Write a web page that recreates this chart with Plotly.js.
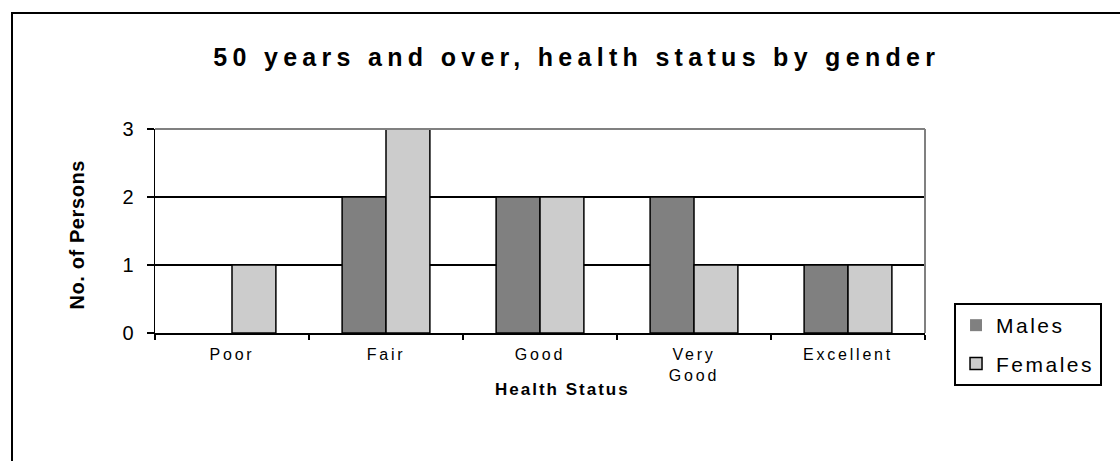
<!DOCTYPE html>
<html>
<head>
<meta charset="utf-8">
<script src="https://cdn.plot.ly/plotly-3.0.1.min.js"></script>
<style>
  html, body { margin: 0; padding: 0; background: #fff; }
  #wrap { position: relative; width: 1120px; height: 461px; overflow: hidden; }
  #chart { position: absolute; left: 0; top: 0; width: 1120px; height: 461px; }
  #frame { position: absolute; left: 11px; top: 12px; width: 1200px; height: 600px;
           border-left: 2px solid #000; border-top: 2px solid #000; pointer-events: none; }
  .gtitle { letter-spacing: 5.3px; }
  .xtick text { letter-spacing: 2.8px; }
  .legendtext { letter-spacing: 2.5px; }
  .annotation-text.xt { letter-spacing: 2px; }
  .annotation-text.yt { letter-spacing: 0.6px; }
</style>
</head>
<body>
<div id="wrap">
  <div id="chart"></div>
  <div id="frame"></div>
</div>
<script>
const categories = ["Poor", "Fair", "Good", "Very<br>Good", "Excellent"];
const males = [0, 2, 2, 2, 1];
const females = [1, 3, 2, 1, 1];
const seriesNames = ["Males", "Females"];
const yTicks = [0, 1, 2, 3];
const chartTitle = "50 years and over, health status by gender";
const xTitle = "Health Status";
const yTitle = "No. of Persons";

const FONT = "Arial, 'Liberation Sans', sans-serif";
const edge = v => v.map(d => (d === 0 ? 0 : 1.5));

const traces = [
  {
    type: "bar", name: seriesNames[0], x: categories, y: males,
    marker: { color: "#808080", line: { color: "#000", width: edge(males) } },
    legendgroup: "m"
  },
  {
    type: "bar", name: seriesNames[1], x: categories, y: females,
    marker: { color: "#cccccc", line: { color: "#000", width: edge(females) } },
    legendgroup: "f"
  }
];

const layout = {
  width: 1120, height: 461,
  margin: { l: 155, r: 195, t: 129, b: 128 },
  paper_bgcolor: "#fff", plot_bgcolor: "#fff",
  font: { family: FONT, color: "#000" },
  barmode: "group", bargap: 0.43, bargroupgap: 0,
  title: {
    text: "<b>" + chartTitle + "</b>",
    font: { family: FONT, size: 25, color: "#000" },
    xref: "container", yref: "container", x: 0.515, y: 0.876,
    xanchor: "center", yanchor: "middle"
  },
  xaxis: {
    type: "category",
    showline: true, linecolor: "#000", linewidth: 1.5,
    ticks: "outside", ticklen: 5, tickcolor: "#000", tickwidth: 1.5,
    tickson: "boundaries",
    tickfont: { family: FONT, size: 16, color: "#000" },
    ticklabelstandoff: 6,
    showgrid: false, zeroline: false, fixedrange: true
  },
  yaxis: {
    range: [0, 3], tickvals: yTicks, ticktext: yTicks.map(String),
    showline: true, linecolor: "#000", linewidth: 1.5,
    ticks: "outside", ticklen: 7, tickcolor: "#000", tickwidth: 1.5,
    tickfont: { family: FONT, size: 20, color: "#000" },
    ticklabelstandoff: 9,
    showgrid: true, gridcolor: "#000", gridwidth: 1.2,
    zeroline: false, fixedrange: true
  },
  shapes: [
    { type: "line", xref: "paper", yref: "paper", x0: 0, x1: 1, y0: 1, y1: 1,
      line: { color: "#808080", width: 2 }, layer: "above" },
    { type: "line", xref: "paper", yref: "paper", x0: 1, x1: 1, y0: 0, y1: 1,
      line: { color: "#808080", width: 2 }, layer: "above" }
  ],
  annotations: [
    { text: "<b>" + xTitle + "</b>", xref: "paper", yref: "paper",
      x: 0.5286, y: -0.279, xanchor: "center", yanchor: "middle",
      showarrow: false, font: { family: FONT, size: 17, color: "#000" } },
    { text: "<b>" + yTitle + "</b>", xref: "paper", yref: "paper",
      x: -0.101, y: 0.48, xanchor: "center", yanchor: "middle", textangle: -90,
      showarrow: false, font: { family: FONT, size: 20, color: "#000" } }
  ],
  showlegend: true,
  legend: {
    x: 1.0377, y: 0.147, xanchor: "left", yanchor: "top",
    bordercolor: "#000", borderwidth: 2, bgcolor: "#fff",
    font: { family: FONT, size: 21, color: "#000" },
    traceorder: "grouped", tracegroupgap: 8
  }
};

Plotly.newPlot("chart", traces, layout, { staticPlot: true, displayModeBar: false }).then(function () {
  const anns = document.querySelectorAll(".annotation-text");
  if (anns[0]) anns[0].classList.add("xt");
  if (anns[1]) anns[1].classList.add("yt");
});
</script>
</body>
</html>
